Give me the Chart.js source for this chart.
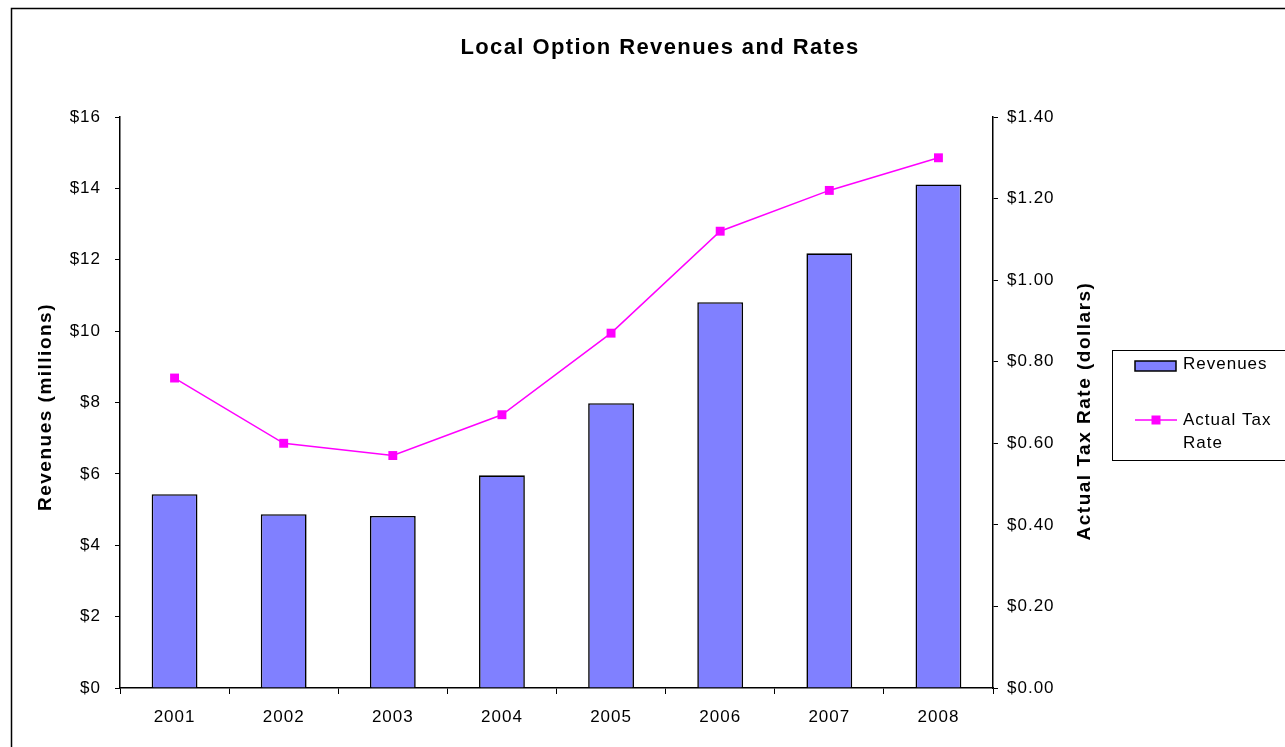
<!DOCTYPE html>
<html>
<head>
<meta charset="utf-8">
<title>Local Option Revenues and Rates</title>
<script src="https://cdn.jsdelivr.net/npm/chart.js@4/dist/chart.umd.min.js"></script>
<style>
  html, body { margin: 0; padding: 0; background: #fff; }
  #chart-wrap { width: 1285px; height: 747px; }
</style>
</head>
<body>
<div id="chart-wrap"><canvas id="rates-chart" width="1285" height="747"></canvas></div>
<script>
const years = ["2001", "2002", "2003", "2004", "2005", "2006", "2007", "2008"];
const revenues = [5.43, 4.87, 4.82, 5.96, 7.98, 10.81, 12.18, 14.11];   // millions
const taxRates = [0.76, 0.60, 0.57, 0.67, 0.87, 1.12, 1.22, 1.30];      // dollars

const chartTitle = "Local Option Revenues and Rates";
const leftTitle = "Revenues (millions)";
const rightTitle = "Actual Tax Rate (dollars)";
const legendLines = [["Revenues"], ["Actual Tax", "Rate"]];

const FONT = '"Liberation Sans", Arial, sans-serif';

// the original text runs a bit wider than Arial, so open it up a little
function spacing(ctx, px) {
  if ("letterSpacing" in ctx) ctx.letterSpacing = px + "px";
}

// frame, title, axis titles and the boxed legend on the right
const decor = {
  id: "decor",
  beforeUpdate(chart) { spacing(chart.ctx, 1); },
  beforeDraw(chart) { spacing(chart.ctx, 1); },
  afterDraw(chart) {
    const ctx = chart.ctx;
    ctx.save();

    // outer frame (top and left edges visible)
    ctx.strokeStyle = "#000";
    ctx.lineWidth = 1.5;
    ctx.beginPath();
    ctx.moveTo(11.5, 760);
    ctx.lineTo(11.5, 8.5);
    ctx.lineTo(1300, 8.5);
    ctx.stroke();

    ctx.fillStyle = "#000";
    ctx.textAlign = "center";
    ctx.textBaseline = "middle";
    spacing(ctx, 1.4);
    ctx.font = "bold 22px " + FONT;
    ctx.fillText(chartTitle, 660, 48);

    spacing(ctx, 1.5);
    ctx.font = "bold 19px " + FONT;
    ctx.save();
    ctx.translate(46, 407);
    ctx.rotate(-Math.PI / 2);
    ctx.fillText(leftTitle, 0, 0);
    ctx.restore();

    ctx.save();
    ctx.translate(1085, 411);
    ctx.rotate(-Math.PI / 2);
    ctx.fillText(rightTitle, 0, 0);
    ctx.restore();

    // legend box
    ctx.lineWidth = 1;
    ctx.strokeStyle = "#000";
    ctx.strokeRect(1112.5, 350.5, 200, 110);

    const barSet = chart.data.datasets[0];
    const lineSet = chart.data.datasets[1];

    ctx.fillStyle = barSet.backgroundColor;
    ctx.fillRect(1135, 361, 41, 10);
    ctx.strokeStyle = barSet.borderColor;
    ctx.lineWidth = 1.5;
    ctx.strokeRect(1135, 361, 41, 10);

    ctx.strokeStyle = lineSet.borderColor;
    ctx.lineWidth = lineSet.borderWidth;
    ctx.beginPath();
    ctx.moveTo(1135, 420);
    ctx.lineTo(1177, 420);
    ctx.stroke();
    ctx.fillStyle = lineSet.pointBackgroundColor;
    ctx.fillRect(1151.5, 415.5, 9, 9);

    ctx.fillStyle = "#000";
    ctx.textAlign = "left";
    spacing(ctx, 1);
    ctx.font = "17px " + FONT;
    ctx.fillText(legendLines[0][0], 1183, 364);
    ctx.fillText(legendLines[1][0], 1183, 420);
    ctx.fillText(legendLines[1][1], 1183, 443);

    ctx.restore();
  }
};

const ctx = document.getElementById("rates-chart").getContext("2d");

const chart = new Chart(ctx, {
  data: {
    labels: years,
    datasets: [
      {
        type: "bar",
        label: "Revenues",
        data: revenues,
        yAxisID: "y",
        backgroundColor: "#8080FF",
        borderColor: "#000",
        borderWidth: 1.6,
        barPercentage: 0.42,
        categoryPercentage: 1,
        order: 2
      },
      {
        type: "line",
        label: "Actual Tax Rate",
        data: taxRates,
        yAxisID: "y1",
        borderColor: "#FF00FF",
        borderWidth: 1.5,
        pointStyle: "rect",
        pointRadius: 6.3,
        pointBackgroundColor: "#FF00FF",
        pointBorderWidth: 0,
        tension: 0,
        clip: false,
        order: 1
      }
    ]
  },
  options: {
    responsive: false,
    animation: false,
    layout: { padding: { top: 117, left: 0, right: 0, bottom: 0 } },
    plugins: {
      legend: { display: false },
      title: { display: false },
      tooltip: { enabled: false }
    },
    scales: {
      x: {
        offset: true,
        grid: { offset: true, drawOnChartArea: false, tickLength: 6, color: "#000" },
        border: { color: "#000", width: 1.5 },
        ticks: { color: "#000", font: { family: FONT, size: 17 }, padding: 13, maxRotation: 0 },
        afterFit(scale) { scale.height = 59; }
      },
      y: {
        position: "left",
        min: 0,
        max: 16,
        ticks: {
          stepSize: 2,
          color: "#000",
          font: { family: FONT, size: 17 },
          padding: 14,
          callback: (v) => "$" + v
        },
        grid: { drawOnChartArea: false, tickLength: 5, color: "#000" },
        border: { color: "#000", width: 1.5 },
        afterFit(scale) { scale.width = 120; }
      },
      y1: {
        position: "right",
        min: 0,
        max: 1.4,
        ticks: {
          stepSize: 0.2,
          color: "#000",
          font: { family: FONT, size: 17 },
          padding: 9,
          callback: (v) => "$" + v.toFixed(2)
        },
        grid: { drawOnChartArea: false, tickLength: 5, color: "#000" },
        border: { color: "#000", width: 1.5 },
        afterFit(scale) { scale.width = 292; }
      }
    }
  },
  plugins: [decor]
});
</script>
</body>
</html>
